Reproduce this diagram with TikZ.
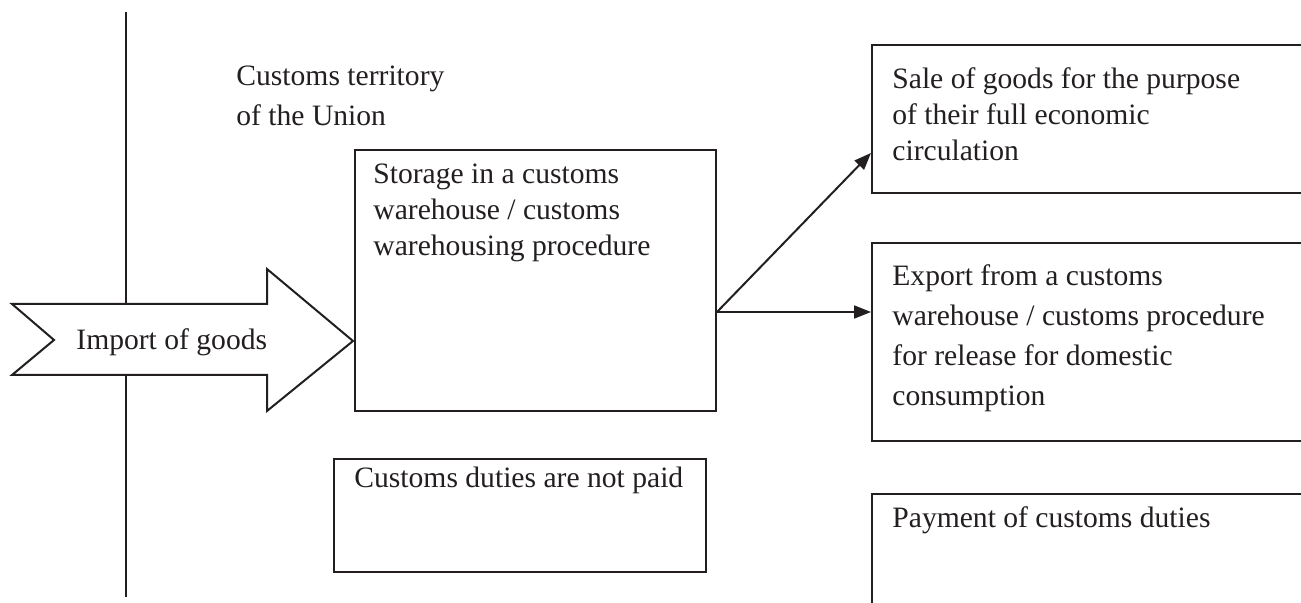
\documentclass[tikz,border=0pt]{standalone}
\usepackage{fontspec}
\setmainfont{Liberation Serif}
\usetikzlibrary{arrows.meta,calc}
\definecolor{ink}{HTML}{231F20}
\begin{document}
\begin{tikzpicture}[x=0.5pt,y=-0.5pt,
  ln/.style={line width=1pt, draw=ink},
  box/.style={ln, rectangle, inner sep=0pt, anchor=north west},
  txt/.style={inner sep=0pt, anchor=north west, align=left, text=ink, font=\fontsize{14.8pt}{18pt}\selectfont},
  txtw/.style={txt, font=\fontsize{14.8pt}{20pt}\selectfont},
  conn/.style={ln, -{Triangle[length=8.5pt,width=6.5pt]}}]
\useasboundingbox (0,0) rectangle (1301,603);
\clip (0,0) rectangle (1301,603);
% border of customs territory
\draw[ln] (126,12) -- (126,597);
% boxes
\node[box, minimum width=180.5pt, minimum height=130.5pt] (st) at (354,149) {};
\node[box, minimum width=230pt, minimum height=74pt] (sale) at (871,44) {};
\node[box, minimum width=230pt, minimum height=99pt] (exp) at (871,242) {};
\node[box, minimum width=186pt, minimum height=56.5pt] (np) at (333,458) {};
\node[box, minimum width=230pt, minimum height=60pt] (pay) at (871,493) {};
% texts
\node[txtw] (terr) at (236,63) {\rule{0pt}{11pt}Customs territory\\of the Union};
\node[txt] (stt) at (373,161) {\rule{0pt}{11pt}Storage in a customs\\warehouse / customs\\warehousing procedure};
\node[txt] (salet) at (892,66) {\rule{0pt}{11pt}Sale of goods for the purpose\\of their full economic\\circulation};
\node[txtw] (expt) at (892,263) {\rule{0pt}{11pt}Export from a customs\\warehouse / customs procedure\\for release for domestic\\consumption};
\node[txt] (npt) at (354,465) {\rule{0pt}{11pt}Customs duties are not paid};
\node[txt] (payt) at (892,505) {\rule{0pt}{11pt}Payment of customs duties};
% import arrow
\draw[ln, fill=white] (12,304) -- (267,304) -- (267,269) -- (353,341) -- (267,411) -- (267,375) -- (12,375) -- (54,340) -- cycle;
\node[txt] (imp) at (76,327) {\rule{0pt}{11pt}Import of goods};
% connectors
\coordinate (fork) at (st.east |- 0,312);
\coordinate (saleIn) at (sale.west |- 0,153);
\coordinate (expIn) at (exp.west |- fork);
\draw[conn] (fork) -- (saleIn);
\draw[conn] (fork) -- (expIn);
\end{tikzpicture}
\end{document}
